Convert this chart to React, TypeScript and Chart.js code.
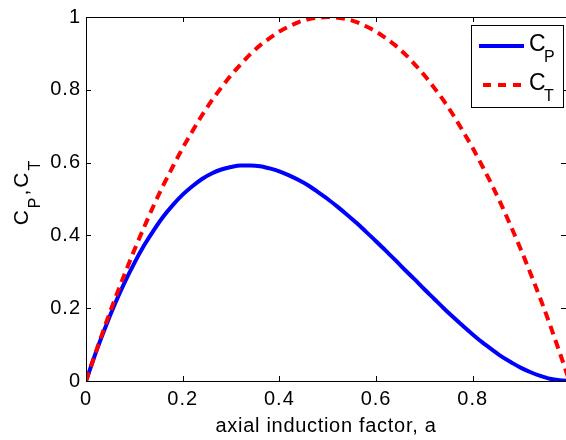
import React, { useEffect, useRef } from "react";
import { Chart, registerables } from "chart.js";

Chart.register(...registerables);

// axial induction factor a
const aValues = [
  0, 0.02, 0.04, 0.06, 0.08, 0.1, 0.12, 0.14, 0.16, 0.18, 0.2, 0.22, 0.24, 0.26, 0.28, 0.3, 0.32,
  0.34, 0.36, 0.38, 0.4, 0.42, 0.44, 0.46, 0.48, 0.5, 0.52, 0.54, 0.56, 0.58, 0.6, 0.62, 0.64,
  0.66, 0.68, 0.7, 0.72, 0.74, 0.76, 0.78, 0.8, 0.82, 0.84, 0.86, 0.88, 0.9, 0.92, 0.94, 0.96,
  0.98, 1.0,
];
// power coefficient C_P
const cpValues = [
  0, 0.077, 0.147, 0.212, 0.271, 0.324, 0.372, 0.414, 0.452, 0.484, 0.512, 0.535, 0.555, 0.57,
  0.581, 0.588, 0.592, 0.592, 0.59, 0.584, 0.576, 0.565, 0.552, 0.537, 0.519, 0.5, 0.479, 0.457,
  0.434, 0.409, 0.384, 0.358, 0.332, 0.305, 0.279, 0.252, 0.226, 0.2, 0.175, 0.151, 0.128, 0.106,
  0.086, 0.067, 0.051, 0.036, 0.024, 0.014, 0.006, 0.002, 0,
];
// thrust coefficient C_T
const ctValues = [
  0, 0.078, 0.154, 0.226, 0.294, 0.36, 0.422, 0.482, 0.538, 0.59, 0.64, 0.686, 0.73, 0.77, 0.806,
  0.84, 0.87, 0.898, 0.922, 0.942, 0.96, 0.974, 0.986, 0.994, 0.998, 1.0, 0.998, 0.994, 0.986,
  0.974, 0.96, 0.942, 0.922, 0.898, 0.87, 0.84, 0.806, 0.77, 0.73, 0.686, 0.64, 0.59, 0.538, 0.482,
  0.422, 0.36, 0.294, 0.226, 0.154, 0.078, 0,
];

const xTicks = [0, 0.2, 0.4, 0.6, 0.8];
const yTicks = [0, 0.2, 0.4, 0.6, 0.8, 1];
const xTitle = "axial induction factor, a";
const yTitleParts = [
  { text: "C", sub: false },
  { text: "P", sub: true },
  { text: ",", sub: false },
  { text: "C", sub: false },
  { text: "T", sub: true },
];
const legendItems = [
  { main: "C", sub: "P", color: "#0000ff", dash: [] as number[] },
  { main: "C", sub: "T", color: "#ff0000", dash: [8, 7] },
];

const FONT = "'Liberation Sans', Arial, sans-serif";

const framePlugin = {
  id: "frame",
  beforeDraw(chart: any) {
    chart.ctx.letterSpacing = "1px";
  },
  afterDraw(chart: any) {
    const ctx = chart.ctx;
    const { left, top, right, bottom } = chart.chartArea;
    const xs = chart.scales.x;
    const ys = chart.scales.y;
    ctx.save();
    ctx.setLineDash([]);
    ctx.strokeStyle = "#000";
    ctx.lineWidth = 1;
    // box
    ctx.beginPath();
    ctx.moveTo(left + 0.5, top + 0.5);
    ctx.lineTo(right + 0.5, top + 0.5);
    ctx.moveTo(left + 0.5, top + 0.5);
    ctx.lineTo(left + 0.5, bottom + 0.5);
    ctx.lineTo(right + 0.5, bottom + 0.5);
    ctx.lineTo(right + 0.5, top + 0.5);
    ctx.stroke();
    // inward tick marks
    const tl = 5;
    ctx.beginPath();
    xs.ticks.forEach((t: any) => {
      const px = Math.round(xs.getPixelForValue(t.value)) + 0.5;
      ctx.moveTo(px, bottom);
      ctx.lineTo(px, bottom - tl);
      ctx.moveTo(px, top);
      ctx.lineTo(px, top + tl);
    });
    ys.ticks.forEach((t: any) => {
      const py = Math.round(ys.getPixelForValue(t.value)) + 0.5;
      ctx.moveTo(left, py);
      ctx.lineTo(left + tl, py);
      ctx.moveTo(right, py);
      ctx.lineTo(right - tl, py);
    });
    ctx.stroke();

    // x title
    ctx.fillStyle = "#000";
    ctx.letterSpacing = "0.7px";
    ctx.font = `20px ${FONT}`;
    ctx.textAlign = "center";
    ctx.textBaseline = "alphabetic";
    ctx.fillText(xTitle, (left + right) / 2, 432);

    // y title (rotated, with subscripts)
    ctx.textAlign = "left";
    ctx.letterSpacing = "2px";
    const mainFont = `21px ${FONT}`;
    const subFont = `16px ${FONT}`;
    let total = 0;
    yTitleParts.forEach((p) => {
      ctx.font = p.sub ? subFont : mainFont;
      total += ctx.measureText(p.text).width;
    });
    ctx.save();
    ctx.translate(28, 192 + total / 2);
    ctx.rotate(-Math.PI / 2);
    let pos = 0;
    yTitleParts.forEach((p) => {
      ctx.font = p.sub ? subFont : mainFont;
      ctx.fillText(p.text, pos, p.sub ? 12 : 0);
      pos += ctx.measureText(p.text).width;
    });
    ctx.restore();

    // legend
    const bx = 471, by = 25, bw = 92, bh = 82;
    ctx.fillStyle = "#fff";
    ctx.fillRect(bx, by, bw, bh);
    ctx.strokeStyle = "#000";
    ctx.lineWidth = 1;
    ctx.strokeRect(bx + 0.5, by + 0.5, bw, bh);
    ctx.letterSpacing = "0px";
    legendItems.forEach((it, i) => {
      const ly = 46 + i * 39;
      ctx.strokeStyle = it.color;
      ctx.lineWidth = 4;
      ctx.lineCap = "butt";
      ctx.setLineDash(it.dash);
      ctx.beginPath();
      ctx.moveTo(i === 0 ? 479 : 483, ly);
      ctx.lineTo(524, ly);
      ctx.stroke();
      ctx.setLineDash([]);
      ctx.fillStyle = "#000";
      ctx.font = `23px ${FONT}`;
      ctx.fillText(it.main, 529, ly + 5);
      ctx.font = `16px ${FONT}`;
      ctx.fillText(it.sub, 544, ly + 16);
    });
    ctx.restore();
  },
};

export default function App() {
  const ref = useRef<HTMLCanvasElement | null>(null);
  useEffect(() => {
    if (!ref.current) return;
    const chart = new Chart(ref.current, {
      type: "line",
      data: {
        datasets: [
          {
            label: "C_T",
            data: aValues.map((a, i) => ({ x: a, y: ctValues[i] })),
            borderColor: "#ff0000",
            borderWidth: 4,
            borderDash: [9, 6],
            borderCapStyle: "butt",
            pointRadius: 0,
            cubicInterpolationMode: "monotone",
            fill: false,
          },
          {
            label: "C_P",
            data: aValues.map((a, i) => ({ x: a, y: cpValues[i] })),
            borderColor: "#0000ff",
            borderWidth: 4,
            pointRadius: 0,
            cubicInterpolationMode: "monotone",
            fill: false,
          },
        ],
      },
      options: {
        animation: false,
        responsive: false,
        devicePixelRatio: 1,
        layout: { padding: { top: 17, right: 0, left: 0, bottom: 0 } },
        plugins: { legend: { display: false }, tooltip: { enabled: false } },
        scales: {
          x: {
            type: "linear",
            min: 0,
            max: 0.993,
            grid: { display: false, drawTicks: false },
            border: { display: false },
            afterBuildTicks: (s: any) => {
              s.ticks = xTicks.map((v) => ({ value: v }));
            },
            afterFit: (s: any) => {
              s.height = 59;
            },
            ticks: {
              color: "#000",
              font: { family: FONT, size: 20 },
              padding: 6,
              maxRotation: 0,
              autoSkip: false,
              callback: (v: any) => String(Number(v)),
            },
          },
          y: {
            type: "linear",
            min: 0,
            max: 1,
            grid: { display: false, drawTicks: false },
            border: { display: false },
            afterBuildTicks: (s: any) => {
              s.ticks = yTicks.map((v) => ({ value: v }));
            },
            afterFit: (s: any) => {
              s.width = 86;
            },
            ticks: {
              color: "#000",
              font: { family: FONT, size: 20 },
              padding: 5,
              autoSkip: false,
              callback: (v: any) => String(Number(v)),
            },
          },
        },
      },
      plugins: [framePlugin],
    } as any);
    return () => chart.destroy();
  }, []);
  return (
    <div style={{ position: "fixed", left: 0, top: 0, width: 566, height: 440, overflow: "hidden", background: "#fff" }}>
      <canvas ref={ref} width={566} height={440} style={{ display: "block" }} />
    </div>
  );
}
